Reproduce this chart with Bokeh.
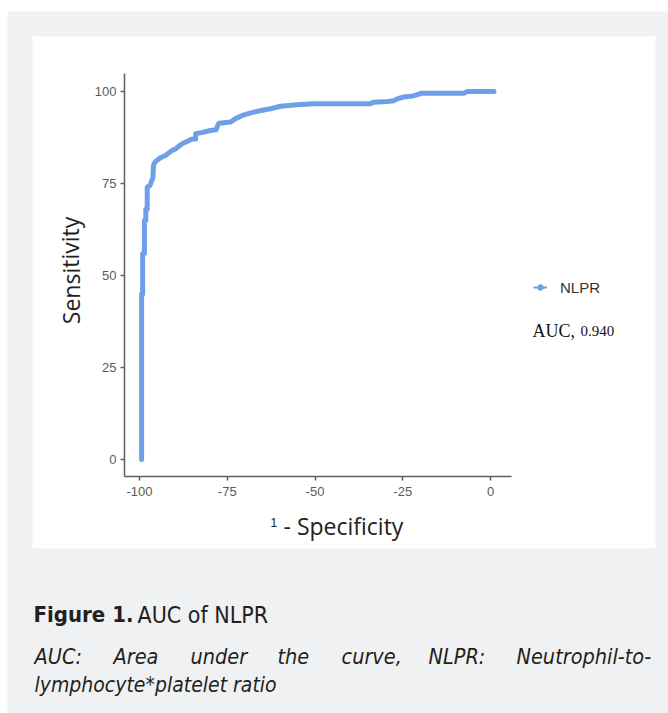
from bokeh.plotting import figure
from bokeh.models import Range1d, Label, BoxAnnotation, Legend, LegendItem
from bokeh.embed import file_html
from bokeh.resources import INLINE

# ---- data ----
spec_minus = [-99.4, -99.4, -99.1, -99.1, -98.6, -98.6, -98.2, -98.2, -97.8, -97.8,
              -97.0, -96.6, -96.2, -96.0, -95.6, -94.5, -93.6, -92.6, -91.5, -90.7,
              -89.7, -88.7, -87.8, -86.5, -85.0, -84.0, -84.0, -82.0, -79.8, -78.2,
              -77.4, -74.1, -72.5, -70.7, -69.0, -67.4, -65.0, -62.7, -59.8, -55.0,
              -50.3, -42.0, -34.2, -33.2, -29.4, -27.5, -26.6, -24.7, -22.0, -19.9,
              -19.9, -7.6, -6.6, 1.0]
sensitivity = [0, 45, 45, 56, 56, 65, 65, 68, 68, 74,
               74.5, 75.5, 76.5, 80.0, 80.8, 81.7, 82.2, 82.6, 83.4, 84.0,
               84.4, 85.2, 85.8, 86.4, 87.1, 87.1, 88.5, 88.9, 89.4, 89.6,
               91.4, 91.7, 92.7, 93.5, 94.0, 94.4, 94.9, 95.3, 96.0, 96.4,
               96.7, 96.7, 96.7, 97.1, 97.3, 97.5, 98.0, 98.5, 98.8, 99.4,
               99.5, 99.5, 100, 100]
x_ticks = [-100, -75, -50, -25, 0]
y_ticks = [0, 25, 50, 75, 100]
series_name = "NLPR"
auc_text = "AUC,"
auc_value = "0.940"
y_title = "Sensitivity"
x_title_one = "1"
x_title_rest = "- Specificity"
cap_bold = "Figure 1."
cap_reg = "AUC of NLPR"
cap_words = ["AUC:", "Area", "under", "the", "curve,", "NLPR:", "Neutrophil-to-"]
cap_line2 = "lymphocyte*platelet ratio"

W, H = 668, 713
GRAY = "#f0f1f3"
LINE = "#6f9fe8"
CAP_FONT = "DejaVu Sans Condensed"
CAP_COLOR = "#231f20"

# pixel <-> data layout (canvas covers the whole page; frame = canvas)
PX_X0, PX_X100 = 490.0, 139.0     # pixel of x=0 and x=-100
PX_Y0, PX_Y100 = 459.0, 91.0      # pixel of y=0 and y=100
sx = (PX_X0 - PX_X100) / 100.0
sy = (PX_Y0 - PX_Y100) / 100.0
def dx(px):
    return (px - PX_X0) / sx
def dy(py):
    return (PX_Y0 - py) / sy

p = figure(width=W, height=H, output_backend="svg", toolbar_location=None,
           x_range=Range1d(dx(0), dx(W)), y_range=Range1d(dy(H), dy(0)),
           min_border=0)
p.background_fill_color = "white"
p.border_fill_color = "white"
p.outline_line_color = None
p.grid.visible = False

p.add_layout(BoxAnnotation(left=dx(7), right=dx(W), top=dy(11), bottom=dy(H),
                           fill_color=GRAY, fill_alpha=1, line_alpha=0,
                           level="underlay"))
p.add_layout(BoxAnnotation(left=dx(32), right=dx(655), top=dy(36), bottom=dy(548),
                           fill_color="white", fill_alpha=1, line_alpha=0,
                           level="underlay"))

xa, ya = p.xaxis[0], p.yaxis[0]
xa.fixed_location = dy(476)
ya.fixed_location = dx(124)
xa.bounds = (dx(124), dx(511))
ya.bounds = (dy(476), dy(73))
for ax in (xa, ya):
    ax.axis_line_color = "#5f5f5f"
    ax.axis_line_width = 1.5
    ax.major_tick_line_color = "#5f5f5f"
    ax.major_tick_line_width = 1.5
    ax.major_tick_in = 0
    ax.major_tick_out = 4
    ax.minor_tick_line_color = None
    ax.major_label_text_font = "Liberation Sans"
    ax.major_label_text_font_size = "13px"
    ax.major_label_text_color = "#5a5a5a"
xa.ticker = x_ticks
ya.ticker = y_ticks
xa.major_label_overrides = {t: str(t) for t in x_ticks}
ya.major_label_overrides = {t: str(t) for t in y_ticks}
xa.major_label_standoff = 6
ya.major_label_standoff = 4

p.line(spec_minus, sensitivity, line_color=LINE, line_width=5,
       line_join="round", line_cap="round")

# legend key renderers (placeholders, nothing drawn in the plot)
kl = p.line([float("nan")], [float("nan")], line_color=LINE, line_width=2)
kd = p.scatter([float("nan")], [float("nan")], marker="circle", size=5,
               fill_color=LINE, line_color=LINE)
leg = Legend(items=[LegendItem(label=series_name, renderers=[kl, kd])],
             location=(533, H - 297), padding=0, margin=0, border_line_alpha=0,
             background_fill_alpha=0, glyph_width=14, glyph_height=20,
             label_standoff=13, label_text_font="Liberation Sans",
             label_text_font_size="15px", label_text_color="#333333")
p.add_layout(leg)

def lab(text, x, y, font, size, color="#222222", style="normal", align="left",
        baseline="alphabetic", angle=0):
    p.add_layout(Label(x=dx(x), y=dy(y), text=text,
                       text_font=font, text_font_size=size, text_color=color,
                       text_font_style=style, text_align=align,
                       text_baseline=baseline, angle=angle))

lab(auc_text, 532, 330, "Liberation Serif", "18px", color="#111111")
lab(auc_value, 580, 330, "Liberation Serif", "15px", color="#111111")

lab(y_title, 70, 270, "Open Sans", "23px", align="center", baseline="middle",
    angle=1.5708)
lab(x_title_one, 270, 522, "Liberation Sans", "12px")
lab(x_title_rest, 283, 525, "Open Sans", "23px")

lab(cap_bold, 33, 614, CAP_FONT, "22px", color=CAP_COLOR, style="bold")
lab(cap_reg, 137, 614, CAP_FONT, "23px", color=CAP_COLOR)
word_x = [34, 113, 190, 277, 341, 428, 516]
for w, wx in zip(cap_words, word_x):
    lab(w, wx, 656, CAP_FONT, "21.5px", color=CAP_COLOR, style="italic")
lab(cap_line2, 34, 684, CAP_FONT, "21px", color=CAP_COLOR, style="italic")

open("out.html", "w").write(file_html(p, INLINE))
